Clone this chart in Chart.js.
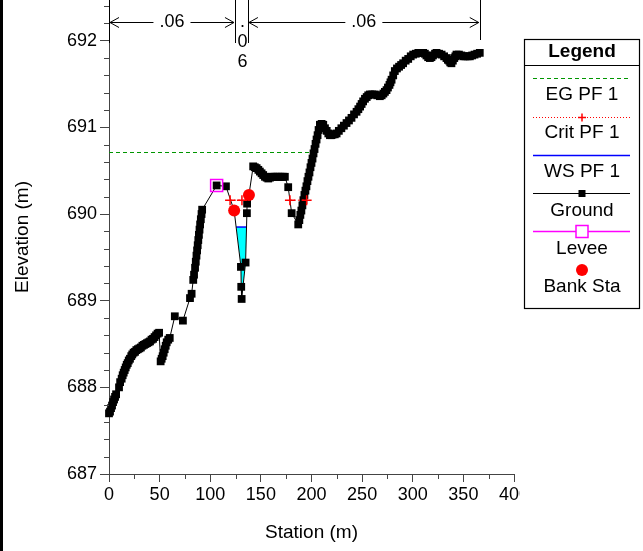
<!DOCTYPE html>
<html>
<head>
<meta charset="utf-8">
<title>Cross section</title>
<script src="https://cdn.jsdelivr.net/npm/chart.js@4.4.0/dist/chart.umd.min.js"></script>
<style>
    html, body { margin: 0; padding: 0; background: #fff; }
    #wrap { width: 643px; height: 551px; }
</style>
</head>
<body>
<div id="wrap"><canvas id="xsChart" width="643" height="551"></canvas></div>
<script>
const FONT = '"Liberation Sans", Arial, sans-serif';

// ground profile (station m, elevation m)
const groundSta = [0, 1, 2, 3, 4, 5, 6, 7, 9.9, 11, 12.5, 13.5, 14.5, 15.5, 16.5, 17.5, 18.5, 19.5, 20.7, 22,
    23, 24.3, 25.7, 27, 28.5, 30, 31.5, 33, 34.5, 36, 37.5, 39, 40.5, 42, 43.5, 45, 46.5, 48, 49.5, 51,
    52, 53, 54, 55, 56, 57, 58.5, 60, 65, 73, 80, 81.6, 83.2, 84, 85, 85.7, 86.4, 87, 87.6, 88.2,
    88.8, 89.4, 90, 90.7, 91.4, 92, 106.3, 115.5, 123.6, 130.3, 130.6, 131.0, 134.9, 136.2, 136.4, 138.2, 142.4, 144, 145.8, 147.5,
    149, 150.7, 152.3, 154, 155.7, 157.3, 159, 160.6, 162.2, 164, 165.5, 167, 168.8, 170.5, 172, 173.7, 177, 180.4, 186.9, 188,
    189, 190, 191, 192, 193, 194, 195, 196, 197, 198, 199, 200, 201, 202, 203, 204, 205, 206, 207, 208.3,
    210, 211.6, 213.3, 215, 216.6, 218.2, 219.8, 221.5, 223, 224.8, 227, 229.5, 232, 234.6, 237, 239.5, 242, 244.5, 246.3, 248,
    249.5, 251, 252.8, 254.5, 256, 257.7, 260, 262.5, 265, 267.5, 269.3, 271, 272.5, 274.1, 275.5, 277, 278, 279.1, 280.7, 282.3,
    284.4, 286.5, 288.5, 290.5, 293, 295.5, 298, 300.4, 303, 305.5, 308, 310.3, 312, 313.5, 315.2, 316.9, 318.5, 320, 322, 323.5,
    326, 328.5, 331, 333.3, 334.7, 336, 337, 338.2, 339.6, 341, 342.1, 343.2, 345.6, 348, 350, 352, 354.2, 356.4, 358.7, 361,
    363.6, 366.2];
const groundElev = [687.70, 687.72, 687.76, 687.79, 687.83, 687.86, 687.89, 687.92, 688.00, 688.06, 688.10, 688.14, 688.17, 688.20, 688.23, 688.26, 688.28, 688.31, 688.33, 688.36,
    688.38, 688.40, 688.41, 688.43, 688.44, 688.45, 688.46, 688.48, 688.49, 688.50, 688.51, 688.52, 688.53, 688.55, 688.56, 688.58, 688.60, 688.62, 688.63, 688.30,
    688.33, 688.36, 688.40, 688.44, 688.48, 688.52, 688.55, 688.57, 688.82, 688.77, 689.03, 689.08, 689.24, 689.30, 689.38, 689.45, 689.52, 689.58, 689.64, 689.70,
    689.76, 689.82, 689.88, 689.94, 690.00, 690.05, 690.33, 690.32, 690.04, 689.39, 689.16, 689.02, 689.44, 690.01, 690.12, 690.22, 690.55, 690.54, 690.53, 690.51,
    690.49, 690.47, 690.45, 690.43, 690.42, 690.41, 690.42, 690.43, 690.43, 690.43, 690.43, 690.43, 690.43, 690.43, 690.43, 690.43, 690.31, 690.01, 689.88, 689.93,
    689.99, 690.04, 690.10, 690.16, 690.22, 690.27, 690.32, 690.38, 690.43, 690.48, 690.54, 690.59, 690.64, 690.70, 690.75, 690.81, 690.86, 690.91, 690.97, 691.03,
    691.04, 691.03, 690.99, 690.96, 690.93, 690.91, 690.91, 690.92, 690.92, 690.93, 690.96, 690.99, 691.02, 691.05, 691.08, 691.11, 691.15, 691.18, 691.21, 691.24,
    691.27, 691.30, 691.33, 691.35, 691.37, 691.38, 691.38, 691.38, 691.37, 691.36, 691.37, 691.39, 691.41, 691.43, 691.46, 691.49, 691.52, 691.55, 691.60, 691.65,
    691.68, 691.70, 691.72, 691.74, 691.77, 691.79, 691.82, 691.84, 691.85, 691.86, 691.86, 691.86, 691.85, 691.83, 691.81, 691.80, 691.81, 691.83, 691.85, 691.86,
    691.85, 691.84, 691.82, 691.80, 691.78, 691.77, 691.75, 691.74, 691.77, 691.80, 691.82, 691.84, 691.84, 691.83, 691.82, 691.82, 691.82, 691.82, 691.83, 691.84,
    691.85, 691.86];

const egElev = 690.71;
const egSta = [0, 205.5];
const critElev = 690.16;
const critSta = [119.6, 131.3, null, 178.7, 195.2];
const wsElev = 689.85;
const wsSta = [125.6, 135.8];
const leveeSta = [106.3];
const leveeElev = [690.33];
const bankSta = [123.6, 138.2];
const bankElev = [690.04, 690.22];

// manning's n breaks along the top
const nBreaks = [0, 124.4, 137.2, 366.2];
const nLabels = ['.06', '.06', '.06'];

const xTicks = [0, 50, 100, 150, 200, 250, 300, 350, 400];
const yMin = 687, yMax = 692.47;

const pts = (xs, ys) => xs.map((s, i) => ({x: s === null ? 160 : s, y: s === null ? null : (Array.isArray(ys) ? ys[i] : ys)}));

const extras = {
    id: 'extras',
    afterDraw(chart) {
        const ctx = chart.ctx, xs = chart.scales.x, ys = chart.scales.y, area = chart.chartArea;
        ctx.save();

        // minor ticks
        ctx.strokeStyle = '#444';
        ctx.lineWidth = 1;
        ctx.beginPath();
        for (let v = 25; v < 400; v += 50) {
            const px = Math.round(xs.getPixelForValue(v)) + 0.5;
            ctx.moveTo(px, area.bottom);
            ctx.lineTo(px, area.bottom + 5);
        }
        for (let k = 1; k < 28; k++) {
            if (k % 5 === 0) continue;
            const py = Math.round(ys.getPixelForValue(yMin + k * 0.2)) + 0.5;
            if (py < 0) continue;
            ctx.moveTo(area.left - 5, py);
            ctx.lineTo(area.left, py);
        }
        ctx.stroke();

        // manning's n
        ctx.strokeStyle = '#000';
        ctx.fillStyle = '#000';
        ctx.font = '18px ' + FONT;
        ctx.textAlign = 'center';
        const ay = 22.5;
        ctx.beginPath();
        nBreaks.forEach((s, i) => {
            const px = Math.round(xs.getPixelForValue(s)) + 0.5;
            ctx.moveTo(px, 0);
            ctx.lineTo(px, i === nBreaks.length - 1 ? 40 : 43);
        });
        ctx.stroke();
        for (let i = 0; i < nLabels.length; i++) {
            const x1 = xs.getPixelForValue(nBreaks[i]), x2 = xs.getPixelForValue(nBreaks[i + 1]);
            const cx = (x1 + x2) / 2;
            if (x2 - x1 > 60) {
                const half = ctx.measureText(nLabels[i]).width / 2 + 6;
                ctx.beginPath();
                ctx.moveTo(x1 + 1, ay); ctx.lineTo(cx - half, ay);
                ctx.moveTo(cx + half, ay); ctx.lineTo(x2 - 1, ay);
                ctx.moveTo(x1 + 10, ay - 5); ctx.lineTo(x1 + 1, ay); ctx.lineTo(x1 + 10, ay + 5);
                ctx.moveTo(x2 - 10, ay - 5); ctx.lineTo(x2 - 1, ay); ctx.lineTo(x2 - 10, ay + 5);
                ctx.stroke();
                ctx.textBaseline = 'middle';
                ctx.fillText(nLabels[i], cx, ay);
            } else {
                ctx.textBaseline = 'alphabetic';
                nLabels[i].split('').forEach((ch, j) => ctx.fillText(ch, cx + 1, 27 + j * 20));
            }
        }

        // right panel clip + left border
        ctx.fillStyle = '#fff';
        ctx.fillRect(520, 0, chart.width - 520, chart.height);
        ctx.fillStyle = '#000';
        ctx.fillRect(0, 0, 3, chart.height);

        // legend
        const lx = 524.5, rx = 639.5, cx = (lx + rx) / 2;
        ctx.strokeStyle = '#000';
        ctx.lineWidth = 1.2;
        ctx.strokeRect(lx, 39.5, rx - lx, 269);
        ctx.beginPath(); ctx.moveTo(lx, 65.5); ctx.lineTo(rx, 65.5); ctx.stroke();
        ctx.textBaseline = 'middle';
        ctx.font = 'bold 19px ' + FONT;
        ctx.fillText('Legend', cx, 52);
        ctx.font = '19px ' + FONT;
        const seg = (y, color, dash, w) => {
            ctx.save();
            ctx.strokeStyle = color; ctx.lineWidth = w; ctx.setLineDash(dash);
            ctx.beginPath(); ctx.moveTo(533, y); ctx.lineTo(630, y); ctx.stroke();
            ctx.restore();
        };
        seg(78.5, '#009600', [4, 3], 1);
        ctx.fillText('EG PF 1', cx, 95);
        seg(117.5, '#ff0000', [1, 2], 1);
        ctx.strokeStyle = '#ff0000'; ctx.lineWidth = 1.5;
        ctx.beginPath(); ctx.moveTo(cx - 4, 117.5); ctx.lineTo(cx + 4, 117.5); ctx.moveTo(cx, 113.5); ctx.lineTo(cx, 121.5); ctx.stroke();
        ctx.fillText('Crit PF 1', cx, 133);
        seg(155.5, '#0000ff', [], 1.5);
        ctx.fillText('WS PF 1', cx, 172);
        seg(193.5, '#000', [], 1);
        ctx.fillRect(cx - 3.5, 190, 7, 7);
        ctx.fillText('Ground', cx, 211);
        seg(231.5, '#ff00ff', [], 1.5);
        ctx.fillStyle = '#fff';
        ctx.fillRect(cx - 6, 225.5, 12, 12);
        ctx.strokeStyle = '#ff00ff'; ctx.lineWidth = 1.5;
        ctx.strokeRect(cx - 6, 225.5, 12, 12);
        ctx.fillStyle = '#000';
        ctx.fillText('Levee', cx, 249);
        ctx.fillStyle = '#ff0000';
        ctx.beginPath(); ctx.arc(cx, 270, 6, 0, Math.PI * 2); ctx.fill();
        ctx.fillStyle = '#000';
        ctx.fillText('Bank Sta', cx, 287);
        ctx.restore();
    }
};

const ctx = document.getElementById('xsChart').getContext('2d');

const xsChart = new Chart(ctx, {
    type: 'line',
    data: {
        datasets: [{
            label: 'Bank Sta',
            data: pts(bankSta, bankElev),
            showLine: false,
            pointStyle: 'circle',
            pointRadius: 6,
            pointBackgroundColor: '#ff0000',
            pointBorderWidth: 0,
            clip: false,
        }, {
            label: 'Levee',
            data: pts(leveeSta, leveeElev),
            showLine: false,
            pointStyle: 'rect',
            pointRadius: 8.5,
            pointBackgroundColor: 'rgba(0,0,0,0)',
            pointBorderColor: '#ff00ff',
            pointBorderWidth: 1.5,
            clip: false,
        }, {
            label: 'Crit PF 1',
            data: pts(critSta, critElev),
            borderColor: '#ff0000',
            borderWidth: 1,
            borderDash: [2, 2],
            spanGaps: false,
            pointStyle: 'cross',
            pointRadius: 5,
            pointBorderColor: '#ff0000',
            pointBorderWidth: 1.5,
            fill: false,
        }, {
            label: 'Ground',
            data: pts(groundSta, groundElev),
            borderColor: '#000',
            borderWidth: 1,
            pointStyle: 'rect',
            pointRadius: 5.5,
            pointBackgroundColor: '#000',
            pointBorderWidth: 0,
            fill: false,
            clip: false,
        }, {
            label: 'WS PF 1',
            data: pts(wsSta, wsElev),
            borderColor: '#0000ff',
            borderWidth: 1.5,
            pointRadius: 0,
            backgroundColor: '#00ffff',
            fill: {target: 3, above: '#00ffff', below: 'rgba(0,0,0,0)'},
        }, {
            label: 'EG PF 1',
            data: pts(egSta, egElev),
            borderColor: '#009600',
            borderWidth: 1,
            borderDash: [4, 3],
            pointRadius: 0,
            fill: false,
        }]
    },
    options: {
        responsive: false,
        devicePixelRatio: 1,
        animation: false,
        layout: {autoPadding: false, padding: {left: 0, right: 129, top: 0, bottom: 0}},
        plugins: {
            legend: {display: false},
            tooltip: {enabled: false},
        },
        scales: {
            x: {
                type: 'linear',
                min: 0,
                max: 400,
                afterBuildTicks: (s) => { s.ticks = xTicks.map(v => ({value: v})); },
                ticks: {
                    color: '#000',
                    maxRotation: 0,
                    autoSkip: false,
                    padding: 2,
                    font: {size: 18, family: FONT},
                },
                grid: {drawOnChartArea: false, tickLength: 8, color: '#444'},
                border: {color: '#444'},
                title: {
                    display: true,
                    text: 'Station (m)',
                    color: '#000',
                    font: {size: 19, family: FONT},
                    padding: {top: 0, bottom: 7},
                },
                afterFit: (s) => { s.height = 77; s.paddingLeft = 0; s.paddingRight = 0; },
            },
            y: {
                type: 'linear',
                min: yMin,
                max: yMax,
                ticks: {
                    stepSize: 1,
                    includeBounds: false,
                    color: '#000',
                    padding: 3,
                    font: {size: 18, family: FONT},
                },
                grid: {drawOnChartArea: false, tickLength: 9, color: '#444'},
                border: {color: '#444'},
                title: {
                    display: true,
                    text: 'Elevation (m)',
                    color: '#000',
                    font: {size: 19, family: FONT},
                    padding: {top: 11, bottom: 0},
                },
                afterFit: (s) => { s.width = 109; s.paddingTop = 0; s.paddingBottom = 0; },
            }
        }
    },
    plugins: [extras]
});
</script>
</body>
</html>
